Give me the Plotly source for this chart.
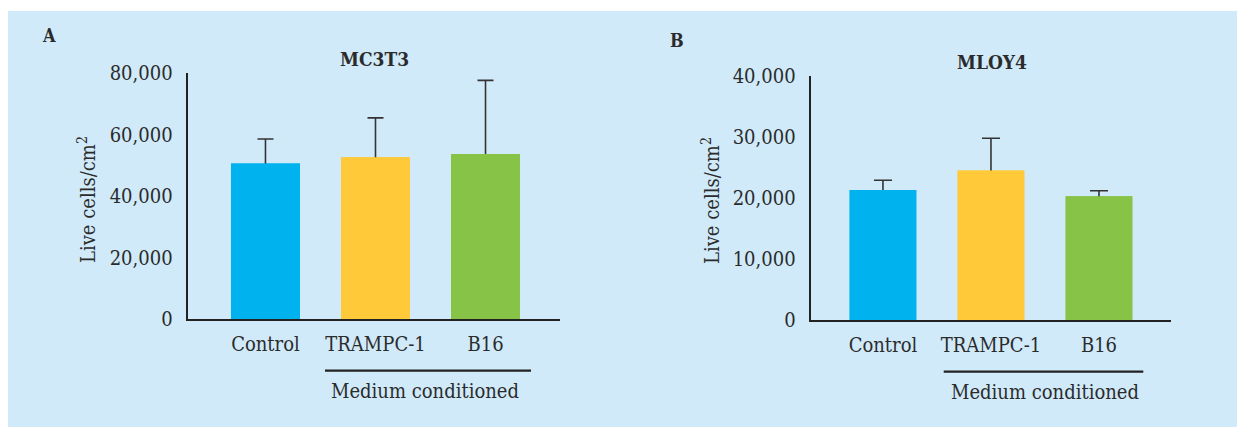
import plotly.graph_objects as go

# ---- data ----
categories = ["Control", "TRAMPC-1", "B16"]
mc3t3_mean = [50600, 52700, 53700]
mc3t3_err = [8000, 12800, 24000]
mloy4_mean = [21300, 24500, 20300]
mloy4_err = [1600, 5300, 900]
bar_colors = ["#00B2EE", "#FFC93A", "#86C346"]
mc3t3_ticks = [0, 20000, 40000, 60000, 80000]
mloy4_ticks = [0, 10000, 20000, 30000, 40000]

W, H = 1245, 427
OFF = 8  # page body margin offset
FONT = "DejaVu Serif Condensed, DejaVu Serif, serif"
TXT = "#2b2b2b"
BG = "#D0EAFA"

def px(x):
    return (x - OFF) / W

def py(y):
    return 1 - (y - OFF) / H

fig = go.Figure()

panels = [
    dict(mean=mc3t3_mean, err=mc3t3_err, xa="x", ya="y", width=0.627, capw=8),
    dict(mean=mloy4_mean, err=mloy4_err, xa="x2", ya="y2", width=0.617, capw=9),
]
for p in panels:
    # bar with error bars (lower half hidden by the overlay bar)
    fig.add_trace(go.Bar(
        x=categories, y=p["mean"], xaxis=p["xa"], yaxis=p["ya"],
        marker=dict(color=bar_colors, line=dict(width=0)), width=p["width"],
        error_y=dict(type="data", array=p["err"], visible=True,
                     color="#333333", thickness=1.6, width=p["capw"]),
        showlegend=False, hoverinfo="skip"))
    fig.add_trace(go.Bar(
        x=categories, y=p["mean"], xaxis=p["xa"], yaxis=p["ya"],
        marker=dict(color=bar_colors, line=dict(width=0)), width=p["width"],
        showlegend=False, hoverinfo="skip"))

axis_common = dict(showgrid=False, zeroline=False, showline=True,
                   linecolor="#222222", linewidth=2.2,
                   tickfont=dict(family=FONT, size=20, color=TXT),
                   ticks="", fixedrange=True, automargin=False)

fig.update_layout(
    width=W, height=H,
    margin=dict(l=0, r=0, t=0, b=0, pad=0, autoexpand=False),
    paper_bgcolor="white", plot_bgcolor="rgba(0,0,0,0)",
    barmode="overlay",
    font=dict(family=FONT, color=TXT),
    xaxis=dict(domain=[px(187.7), px(560)], range=[-0.707, 2.677],
               anchor="y", ticklabelstandoff=6, **axis_common),
    yaxis=dict(domain=[py(319), py(73.3)], range=[0, 80000],
               tickvals=mc3t3_ticks, tickformat=",d", anchor="x",
               ticklabelstandoff=9, **axis_common),
    xaxis2=dict(domain=[px(810.7), px(1170.7)], range=[-0.669, 2.664],
                anchor="y2", ticklabelstandoff=6, **axis_common),
    yaxis2=dict(domain=[py(320), py(76)], range=[0, 40000],
                tickvals=mloy4_ticks, tickformat=",d", anchor="x2",
                ticklabelstandoff=9, **axis_common),
)

# background panel
fig.add_shape(type="rect", xref="paper", yref="paper",
              x0=0, x1=1.0, y0=0, y1=py(11),
              fillcolor=BG, line=dict(width=0), layer="below")

# brackets under conditioned-medium groups
for x0, x1, y in [(325, 531, 370.7), (943.7, 1143.3, 371.7)]:
    fig.add_shape(type="line", xref="paper", yref="paper",
                  x0=px(x0), x1=px(x1), y0=py(y), y1=py(y),
                  line=dict(color="#222222", width=2.2))

def ann(text, x, y, size, bold=False, angle=0):
    fig.add_annotation(text=("<b>%s</b>" % text) if bold else text,
                       xref="paper", yref="paper", x=px(x), y=py(y),
                       xanchor="center", yanchor="middle", showarrow=False,
                       textangle=angle,
                       font=dict(family=FONT, size=size, color=TXT))

ann("A", 49, 36, 18, bold=True)
ann("B", 676.7, 40.7, 18, bold=True)
ann("MC3T3", 374.5, 59, 19, bold=True)
ann("MLOY4", 991.7, 61.7, 19, bold=True)
ann("Medium conditioned", 425, 391, 20)
ann("Medium conditioned", 1045, 391.7, 20)
ann("Live cells/cm<sup>2</sup>", 87, 200, 20, angle=-90)
ann("Live cells/cm<sup>2</sup>", 711, 201, 20, angle=-90)

fig.write_html("out.html")
